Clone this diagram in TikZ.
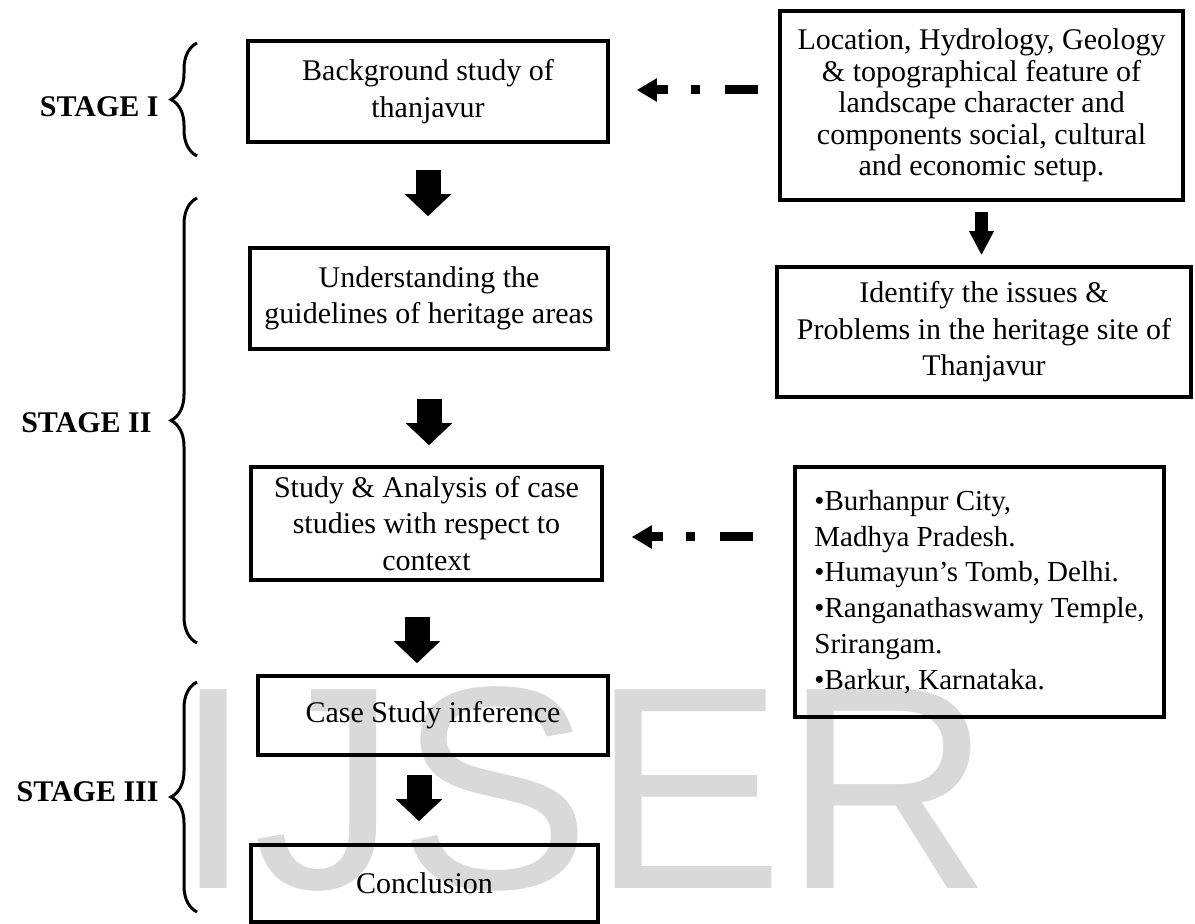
\documentclass[tikz,border=0pt]{standalone}
\usepackage{fontspec}
\setmainfont{Liberation Serif}
\newfontfamily\markfont{Liberation Sans}
\usetikzlibrary{shapes,arrows.meta,decorations.pathreplacing,calc}

\begin{document}
\begin{tikzpicture}[x=0.5pt,y=-0.5pt,
  box/.style={draw,line width=1.75pt,align=center,inner sep=0pt,font=\fontsize{15}{18.25}\selectfont},
  stage/.style={anchor=east,inner sep=0pt,font=\fontsize{15}{18}\selectfont\bfseries},
  bigarrow/.style={line width=12.5pt,-{Triangle[width=22.5pt,length=11pt]}},
  smallarrow/.style={line width=6.5pt,-{Triangle[width=11.5pt,length=12pt]}},
  linkarrow/.style={line width=4.5pt,dash pattern=on 16.5pt off 12.5pt on 4.5pt off 11.5pt,-{Triangle[width=11pt,length=10pt]}},
  stagebrace/.style={decorate,decoration={brace,amplitude=13pt},line width=1.5pt}]
\useasboundingbox (0,0) rectangle (1195,924);
\node[anchor=base west,inner sep=0pt,text=black!15,font=\markfont\fontsize{144.5}{150}\selectfont] (mark) at (173,889) {IJSER};

\node[box,minimum width=180pt,minimum height=50.5pt] (b1) at (428,91.5) {Background study of\\thanjavur};
\node[box,minimum width=179pt,minimum height=50.5pt] (b2) at (429,298.5) {Understanding the\\guidelines of heritage areas};
\node[box,minimum width=175.5pt,minimum height=56.5pt] (b3) at (426.5,523.5) {Study \& Analysis of case\\studies with respect to\\context};
\node[box,minimum width=175pt,minimum height=39.5pt] (b4) at (433,715.5) {Case Study inference};
\node[box,minimum width=173.5pt,minimum height=38.5pt] (b5) at (424.5,883.5) {Conclusion};
\node[box,minimum width=201.5pt,minimum height=94.5pt,font=\fontsize{15}{15.75}\selectfont] (r1) at (981.5,105.5) {Location, Hydrology, Geology\\\& topographical feature of\\landscape character and\\components social, cultural\\and economic setup.};
\node[box,minimum width=207pt,minimum height=65pt] (r2) at (984,332) {Identify the issues \&\\Problems in the heritage site of\\Thanjavur};
\node[box,align=left,minimum width=184.5pt,minimum height=125pt,font=\fontsize{14.5}{17.9}\selectfont] (r3) at (979.5,592) {•Burhanpur City,\\Madhya Pradesh.\\•Humayun’s Tomb, Delhi.\\•Ranganathaswamy Temple,\\Srirangam.\\•Barkur, Karnataka.};

\node[stage] (s1) at (159,107) {STAGE I};
\node[stage] (s2) at (152,423) {STAGE II};
\node[stage] (s3) at (159,792) {STAGE III};

\draw[stagebrace] (197,156) -- (197,43);
\draw[stagebrace] (197,643) -- (197,198);
\draw[stagebrace] (197,912) -- (197,682);

\draw[bigarrow,shorten <=13pt,shorten >=15pt] (b1.south) -- (b1.south |- b2.north);
\draw[bigarrow,shorten <=24pt,shorten >=10pt] (b2.south) -- (b2.south |- b3.north);
\draw[bigarrow,shorten <=17.5pt,shorten >=5.5pt] ([xshift=-4.75pt]b3.south) -- ([xshift=-4.75pt]b3.south |- b4.north);
\draw[bigarrow,shorten <=9pt,shorten >=11pt] ([xshift=-7pt]b4.south) -- ([xshift=-7pt]b4.south |- b5.north);
\draw[smallarrow,shorten <=5pt,shorten >=5pt] (r1.south) -- (r1.south |- r2.north);

\draw[linkarrow] ($(r1.west |- b1.east)+(-10pt,0.75pt)$) -- ($(b1.east)+(13.5pt,0.75pt)$);
\draw[linkarrow] ($(r3.west |- b3.east)+(-20pt,-6.75pt)$) -- ($(b3.east)+(14pt,-6.75pt)$);
\end{tikzpicture}
\end{document}
